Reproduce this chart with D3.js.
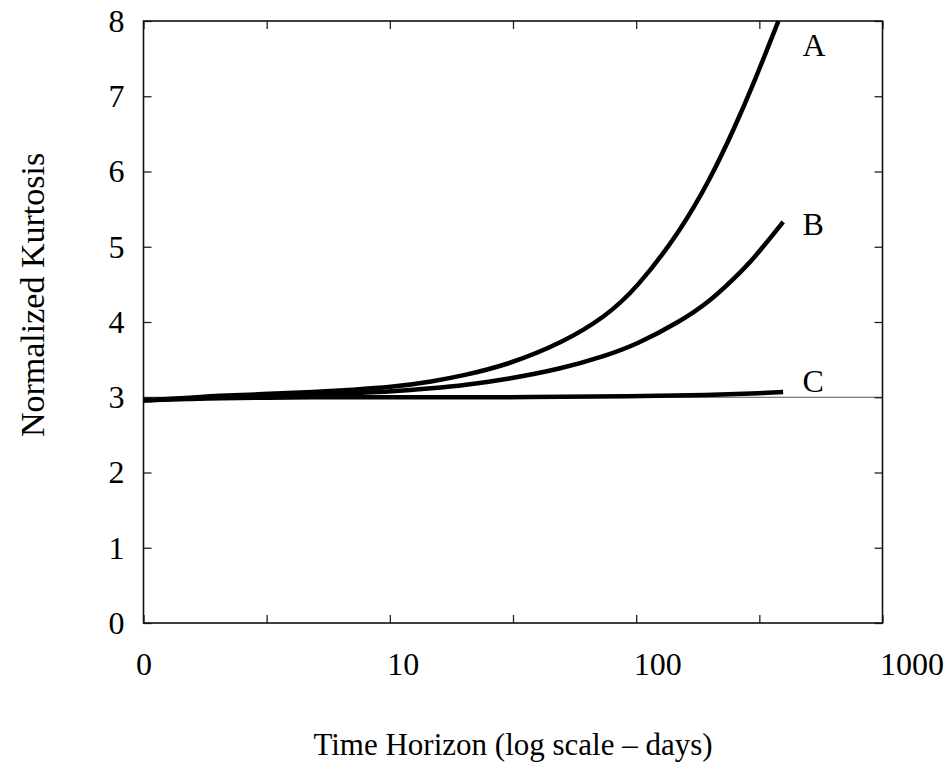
<!DOCTYPE html>
<html>
  <head>
    <meta charset="utf-8">
    <title>Normalized Kurtosis</title>
    <script src="https://cdn.jsdelivr.net/npm/d3@7/dist/d3.min.js"></script>
<style type="text/css">
body {
  margin: 0;
  background: #fff;
}
svg text {
  font-family: "Liberation Serif", "DejaVu Serif", serif;
  fill: #000;
}
.curve {
  fill: none;
  stroke: #000;
  stroke-width: 4.5px;
  stroke-linecap: butt;
}
</style>
  </head>
  <body>
    <div id="chart"></div>
    <script>

// データ（読み取り値）
var daysA = [1, 1.5, 2, 3, 5, 7, 10, 15, 20, 30, 50, 75, 100, 150, 200, 250, 300, 378];
var kurtA = [2.96, 2.99, 3.02, 3.04, 3.07, 3.10, 3.13, 3.21, 3.29, 3.43, 3.72, 4.07, 4.44, 5.19, 5.90, 6.57, 7.17, 8.0];

var daysB = [1, 1.5, 2, 3, 5, 10, 15, 20, 30, 50, 75, 100, 150, 200, 250, 300, 395];
var kurtB = [2.96, 2.98, 3.0, 3.02, 3.04, 3.07, 3.12, 3.16, 3.24, 3.38, 3.55, 3.70, 4.0, 4.28, 4.58, 4.84, 5.33];

var daysC = [1, 2, 5, 10, 30, 100, 200, 300, 395];
var kurtC = [2.96, 2.99, 3.0, 3.0, 3.0, 3.01, 3.03, 3.05, 3.07];

var seriesNames = ["A", "B", "C"];

var xTickValues = [1, 3.1623, 10, 31.623, 100, 316.23, 1000];
var xTickLabels = ["0", "", "10", "", "100", "", "1000"];
var yTickValues = [0, 1, 2, 3, 4, 5, 6, 7, 8];

//グラフエリア
var W = 946, H = 768;
var margin = {top: 21, right: 63.5, bottom: 145, left: 143.5};
var width = W - margin.left - margin.right;
var height = H - margin.top - margin.bottom;

var svg = d3.select("#chart").append("svg")
    .attr("width", W)
    .attr("height", H);

var g = svg.append("g")
    .attr("transform", "translate(" + margin.left + "," + margin.top + ")");

var x = d3.scaleLog().domain([1, 1000]).range([0, width]);
var y = d3.scaleLinear().domain([0, 8]).range([height, 0]);

// 3 の基準線
g.append("line")
    .attr("x1", 0).attr("x2", width)
    .attr("y1", y(3)).attr("y2", y(3))
    .attr("stroke", "#555")
    .attr("stroke-width", 1.2);

// 軸（目盛りは内向き）
function styleAxis(sel) {
  sel.select(".domain").remove();
  sel.selectAll(".tick line").attr("stroke", "#222").attr("stroke-width", 1.3);
  sel.selectAll(".tick text").style("font-size", "32px");
}

var xAxisG = g.append("g")
    .attr("transform", "translate(0," + height + ")")
    .call(d3.axisBottom(x).tickValues(xTickValues).tickSize(-8).tickPadding(29)
      .tickFormat(function(d, i) { return xTickLabels[i]; }))
    .call(styleAxis);

// 最初のラベル以外は目盛りの右側に寄せる
xAxisG.selectAll(".tick text")
    .attr("text-anchor", function(d, i) { return i === 0 ? "middle" : "start"; })
    .attr("dx", function(d, i) { return i === 0 ? 0 : -3; });

g.append("g")
    .call(d3.axisTop(x).tickValues(xTickValues).tickSize(-8).tickFormat(""))
    .call(styleAxis);

g.append("g")
    .call(d3.axisLeft(y).tickValues(yTickValues).tickSize(-8).tickPadding(19)
      .tickFormat(d3.format("d")))
    .call(styleAxis);

g.append("g")
    .attr("transform", "translate(" + width + ",0)")
    .call(d3.axisRight(y).tickValues(yTickValues).tickSize(-8).tickFormat(""))
    .call(styleAxis);

// 枠
g.append("rect")
    .attr("width", width)
    .attr("height", height)
    .attr("fill", "none")
    .attr("stroke", "#111")
    .attr("stroke-width", 1.6);

// 曲線
var line = d3.line()
    .x(function(d) { return x(d[0]); })
    .y(function(d) { return y(d[1]); })
    .curve(d3.curveBasis);

var series = [
  d3.zip(daysA, kurtA),
  d3.zip(daysB, kurtB),
  d3.zip(daysC, kurtC)
];

g.selectAll(".curve")
    .data(series)
    .enter()
    .append("path")
    .attr("class", "curve")
    .attr("d", line);

// 曲線ラベル
var labelKurt = [7.69, 5.30, 3.22];
g.selectAll(".lbl")
    .data(seriesNames)
    .enter()
    .append("text")
    .attr("class", "lbl")
    .attr("x", x(473))
    .attr("y", function(d, i) { return y(labelKurt[i]); })
    .attr("dy", "0.35em")
    .style("font-size", "32px")
    .text(function(d) { return d; });

// 軸タイトル
svg.append("text")
    .attr("x", margin.left + width / 2)
    .attr("y", 755)
    .attr("text-anchor", "middle")
    .style("font-size", "31px")
    .text("Time Horizon (log scale – days)");

svg.append("text")
    .attr("transform", "translate(44," + 295 + ") rotate(-90)")
    .attr("text-anchor", "middle")
    .style("font-size", "34px")
    .text("Normalized Kurtosis");

    </script>
  </body>
</html>
